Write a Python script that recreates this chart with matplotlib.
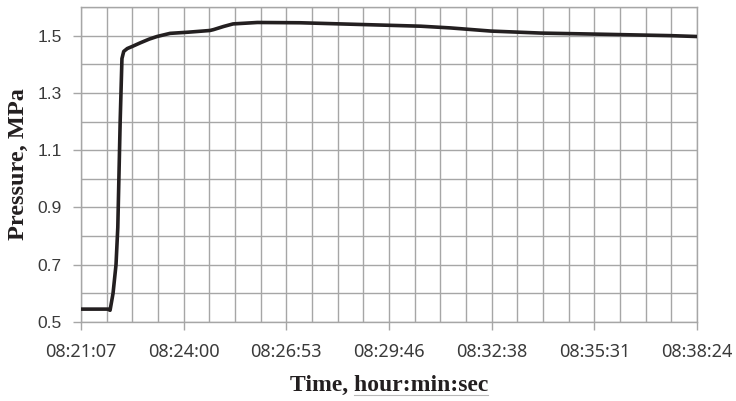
import matplotlib
matplotlib.use("Agg")
import matplotlib.pyplot as plt
from matplotlib.lines import Line2D
import numpy as np

# time in seconds after 08:21:07, pressure in MPa
t_sec = [0, 30, 45, 49, 54, 59, 62, 66, 69, 72, 78, 86, 100, 115, 128, 150, 180,
         217, 223, 240, 256, 297, 369, 454, 572, 622, 690, 774, 875, 993, 1037]
pressure = [0.545, 0.545, 0.545, 0.541, 0.60, 0.70, 0.83, 1.20, 1.42, 1.445, 1.455, 1.462,
            1.475, 1.488, 1.497, 1.508, 1.512, 1.518, 1.521, 1.532, 1.541, 1.546, 1.545,
            1.540, 1.533, 1.527, 1.516, 1.509, 1.505, 1.500, 1.497]

T_END = 1037
tick_labels = ["08:21:07", "08:24:00", "08:26:53", "08:29:46", "08:32:38", "08:35:31", "08:38:24"]
y_ticks = [0.5, 0.7, 0.9, 1.1, 1.3, 1.5]

fig = plt.figure(figsize=(7.36, 4.01), dpi=100)
ax = fig.add_axes([0.110, 0.197, 0.837, 0.7855])

grid_c = "#a6a6a6"
for xv in np.linspace(0, T_END, 25):
    ax.axvline(xv, color=grid_c, lw=1.0, zorder=1)
for yv in np.arange(0.5, 1.61, 0.1):
    ax.axhline(yv, color=grid_c, lw=1.0, zorder=1)

ax.plot(t_sec, pressure, color="#231f20", lw=2.6, zorder=3)

ax.set_xlim(0, T_END)
ax.set_ylim(0.5, 1.6)
ax.set_xticks(np.linspace(0, T_END, 7))
ax.set_xticklabels(tick_labels)
ax.set_yticks(y_ticks)
ax.set_yticklabels([f"{v:.1f}" for v in y_ticks])

for s in ax.spines.values():
    s.set_color(grid_c)
    s.set_linewidth(1.0)

ax.tick_params(axis="both", colors=grid_c, length=6, width=1.0, labelcolor="#3a3a3a")
ax.tick_params(axis="x", pad=9, labelsize=13)
ax.tick_params(axis="y", pad=8, labelsize=12.5)
for lab in ax.get_xticklabels():
    lab.set_family("Noto Sans")
for lab in ax.get_yticklabels():
    lab.set_family("Liberation Sans")

xl = ax.set_xlabel("Time, hour:min:sec", family="Liberation Serif", fontweight="bold",
                   fontsize=17, color="#231f20", labelpad=10)
ax.set_ylabel("Pressure, MPa", family="Liberation Serif", fontweight="bold",
              fontsize=17.5, color="#231f20", labelpad=6)

# faint underline under "hour:min:sec"
fig.canvas.draw()
r = fig.canvas.get_renderer()
bb = xl.get_window_extent(r)
tmp = fig.text(0, 0, "Time, ", family="Liberation Serif", fontweight="bold", fontsize=17)
pre_w = tmp.get_window_extent(r).width
tmp.remove()
W, H = fig.bbox.width, fig.bbox.height
y_ul = (bb.y0 + 1) / H
fig.add_artist(Line2D([(bb.x0 + pre_w) / W, bb.x1 / W], [y_ul, y_ul],
                      color="#b8b8b8", lw=0.8))

fig.savefig("out.png", dpi=100)
